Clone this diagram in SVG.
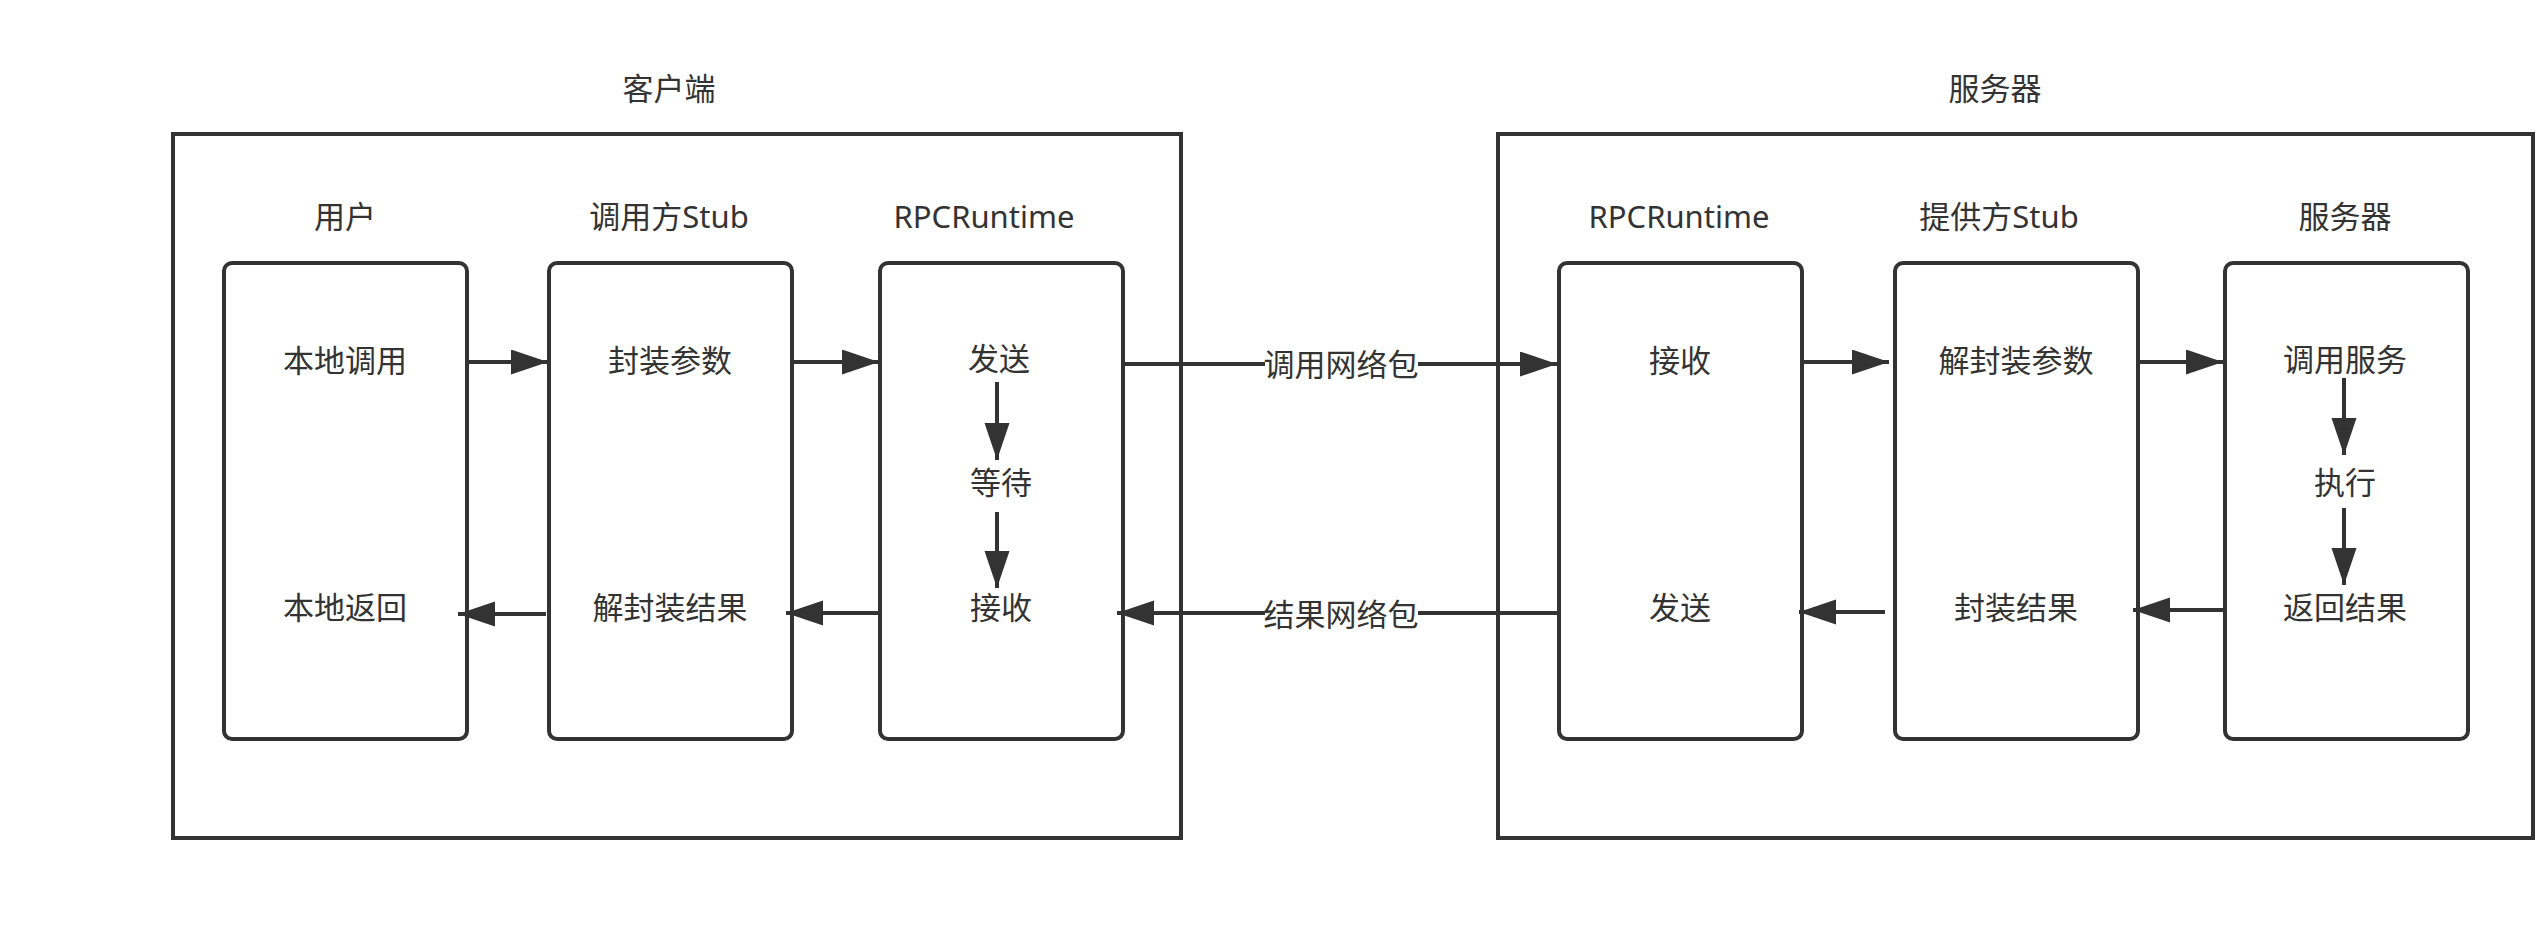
<svg xmlns="http://www.w3.org/2000/svg" width="2540" height="948" viewBox="0 0 2540 948">
<defs>
<style>
.frame{fill:#fff;stroke:#333;stroke-width:4}
.node{fill:#fff;stroke:#333;stroke-width:4}
.edge{fill:none;stroke:#333;stroke-width:4}
.t{font-family:"Noto Sans","Noto Sans CJK SC",sans-serif;font-size:31px;fill:#333;text-anchor:middle;dominant-baseline:central}
.lblbg{fill:#fff}
</style>
<marker id="ah" markerUnits="userSpaceOnUse" markerWidth="38" markerHeight="26" refX="37" refY="12.5" orient="auto" viewBox="0 0 38 26">
<path d="M0,0 L37,12.5 L0,25 Z" fill="#333"/>
</marker>
</defs>
<rect width="2540" height="948" fill="#fff"/>
<g id="client">
<text class="t" x="669" y="88">客户端</text>
<rect class="frame" x="173" y="134" width="1008" height="704"/>
</g>
<g id="server">
<text class="t" x="1995" y="88">服务器</text>
<rect class="frame" x="1498" y="134" width="1035" height="704"/>
</g>
<g id="node-user">
<text class="t" x="345" y="216">用户</text>
<rect class="node" x="224" y="263" width="243" height="476" rx="8"/>
<text class="t" x="345" y="360">本地调用</text>
<text class="t" x="345" y="607">本地返回</text>
</g>
<g id="node-caller-stub">
<text class="t" x="669" y="216">调用方Stub</text>
<rect class="node" x="549" y="263" width="243" height="476" rx="8"/>
<text class="t" x="670" y="360">封装参数</text>
<text class="t" x="670" y="607">解封装结果</text>
</g>
<g id="node-client-rpc">
<text class="t" x="984" y="216">RPCRuntime</text>
<rect class="node" x="880" y="263" width="243" height="476" rx="8"/>
<text class="t" x="999" y="358">发送</text>
<text class="t" x="1001" y="482">等待</text>
<text class="t" x="1001" y="607">接收</text>
</g>
<g id="node-server-rpc">
<text class="t" x="1679" y="216">RPCRuntime</text>
<rect class="node" x="1559" y="263" width="243" height="476" rx="8"/>
<text class="t" x="1680" y="360">接收</text>
<text class="t" x="1680" y="607">发送</text>
</g>
<g id="node-provider-stub">
<text class="t" x="1999" y="216">提供方Stub</text>
<rect class="node" x="1895" y="263" width="243" height="476" rx="8"/>
<text class="t" x="2016" y="360">解封装参数</text>
<text class="t" x="2016" y="607">封装结果</text>
</g>
<g id="node-service">
<text class="t" x="2345" y="216">服务器</text>
<rect class="node" x="2225" y="263" width="243" height="476" rx="8"/>
<text class="t" x="2345" y="359">调用服务</text>
<text class="t" x="2345" y="482">执行</text>
<text class="t" x="2345" y="607">返回结果</text>
</g>
<g id="connectors">
<line class="edge" x1="467" y1="362" x2="548" y2="362" marker-end="url(#ah)"/>
<line class="edge" x1="792" y1="362" x2="879" y2="362" marker-end="url(#ah)"/>
<line class="edge" x1="1123" y1="364" x2="1557" y2="364" marker-end="url(#ah)"/>
<line class="edge" x1="1802" y1="362" x2="1889" y2="362" marker-end="url(#ah)"/>
<line class="edge" x1="2138" y1="362" x2="2223" y2="362" marker-end="url(#ah)"/>
<line class="edge" x1="2223" y1="610" x2="2133" y2="610" marker-end="url(#ah)"/>
<line class="edge" x1="1885" y1="612" x2="1799" y2="612" marker-end="url(#ah)"/>
<line class="edge" x1="1559" y1="613" x2="1117" y2="613" marker-end="url(#ah)"/>
<line class="edge" x1="880" y1="613" x2="786" y2="613" marker-end="url(#ah)"/>
<line class="edge" x1="546" y1="614" x2="458" y2="614" marker-end="url(#ah)"/>
<line class="edge" x1="997" y1="382" x2="997" y2="460" marker-end="url(#ah)"/>
<line class="edge" x1="997" y1="512" x2="997" y2="588" marker-end="url(#ah)"/>
<line class="edge" x1="2344" y1="378" x2="2344" y2="455" marker-end="url(#ah)"/>
<line class="edge" x1="2344" y1="508" x2="2344" y2="585" marker-end="url(#ah)"/>
<rect class="lblbg" x="1265" y="344" width="153" height="40"/>
<text class="t" x="1341" y="364">调用网络包</text>
<rect class="lblbg" x="1265" y="593" width="153" height="40"/>
<text class="t" x="1341" y="614">结果网络包</text>
</g>
</svg>
